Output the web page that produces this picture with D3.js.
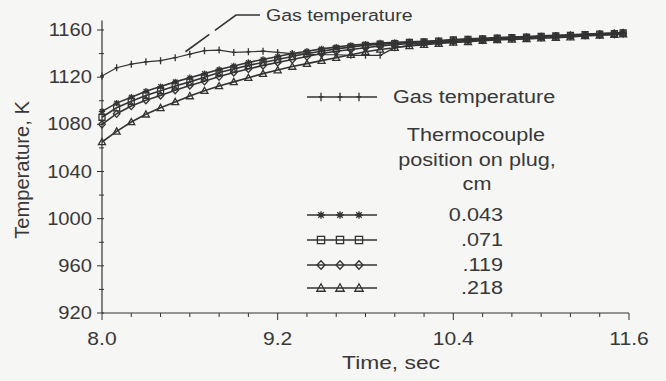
<!DOCTYPE html>
<html>
<head>
<meta charset="utf-8">
<script src="https://cdn.jsdelivr.net/npm/d3@7"></script>
<style>
html,body{margin:0;padding:0;background:#f6f6f5;}
svg{display:block;}
text{font-family:"Liberation Sans",Arial,Helvetica,sans-serif;fill:#383838;}
</style>
</head>
<body>
<svg id="chart" width="666" height="381"></svg>
<script>
// ---- data ----
const times = [8.0,8.1,8.2,8.3,8.4,8.5,8.6,8.7,8.8,8.9,9.0,9.1,9.2,9.3,9.4,9.5,9.6,9.7,9.8,9.9,
  10.0,10.1,10.2,10.3,10.4,10.5,10.6,10.7,10.8,10.9,11.0,11.1,11.2,11.3,11.4,11.5,11.56];
const gasTemp = [1121,1128,1131,1133,1134,1136.5,1139.5,1142.5,1143,1141,1141.5,1142,1141,1140,1139.5,1139,1139,1138.5,1138.5,1138.5,
  1145,1147,1148,1149,1150,1151,1151.5,1152,1153,1153.5,1154,1155,1155.5,1156,1157,1157.5,1158];
const tc043 = [1091,1098,1103,1108,1112,1116,1119.5,1123,1126.5,1129.5,1132.5,1135,1137.5,1140,1142,1144,1145.5,1147,1148,1149,
  1149.5,1150,1150.5,1151,1152,1152.5,1153,1153.5,1154,1154.5,1155,1155.5,1156,1156.5,1157,1157.5,1158];
const tc071 = [1086,1094,1099.5,1104.5,1108.5,1112.5,1116,1120,1124,1127,1130,1132.5,1135,1137.5,1140,1142,1144,1145.5,1147,1148,
  1148.5,1149.5,1150,1150.5,1151.5,1152,1152.5,1153,1153.5,1154,1154.5,1155,1155.5,1156,1156.5,1157,1157.5];
const tc119 = [1080,1089,1095.5,1100.5,1104.5,1109,1113,1116.5,1120.5,1124,1127,1130,1132.5,1135,1137.5,1140,1142,1143.5,1145,1146.5,
  1147.5,1148.5,1149,1150,1150.5,1151,1151.5,1152.5,1153,1153.5,1154,1154.5,1155,1155.5,1156,1156.5,1157];
const tc218 = [1065,1074,1082,1088.5,1094,1099,1104,1108.5,1112.5,1116,1119.5,1123,1126,1129,1131.5,1134,1136.5,1139,1141.5,1143.5,
  1145,1146.5,1147.5,1148.5,1149.5,1150,1151,1151.5,1152,1152.5,1153,1153.5,1154,1155,1155.5,1156,1156.5];
const xTickLabels = [8.0, 9.2, 10.4, 11.6];
const yTickLabels = [920, 960, 1000, 1040, 1080, 1120, 1160];
const legendPositions = ["0.043", ".071", ".119", ".218"];

// ---- setup ----
const svg = d3.select("#chart");
const ink = "#333333";
const x = d3.scaleLinear().domain([8.0, 11.6]).range([102, 629]);
const y = d3.scaleLinear().domain([920, 1160]).range([313, 30]);

function label(px, py, s, anchor, size, sx) {
  svg.append("text")
    .attr("transform", `translate(${px},${py}) scale(${sx || 1.17},1)`)
    .attr("text-anchor", anchor)
    .attr("dominant-baseline", "central")
    .attr("font-size", size)
    .text(s);
}

// ---- axes ----
const yMinor = d3.range(920, 1161, 20);
const xMinor = d3.range(0, 19).map(i => 8.0 + i * 0.2);

const gx = svg.append("g").attr("transform", `translate(0,${y(920)})`);
gx.append("line").attr("x1", x(8.0)).attr("x2", x(11.6)).attr("stroke", ink).attr("stroke-width", 1.2);
gx.selectAll("line.t").data(xMinor).join("line").attr("class", "t")
  .attr("x1", d => x(d)).attr("x2", d => x(d))
  .attr("y1", 0).attr("y2", d => xTickLabels.some(v => Math.abs(v - d) < 1e-6) ? 7 : 4)
  .attr("stroke", ink).attr("stroke-width", 1);
xTickLabels.forEach(v => label(x(v), 339, v.toFixed(1), "middle", 18));

const gy = svg.append("g").attr("transform", `translate(${x(8.0)},0)`);
gy.append("line").attr("y1", y(920)).attr("y2", y(1168)).attr("stroke", ink).attr("stroke-width", 1.2);
gy.selectAll("line.t").data(yMinor).join("line").attr("class", "t")
  .attr("y1", d => y(d)).attr("y2", d => y(d))
  .attr("x1", d => yTickLabels.includes(d) ? -5 : -3).attr("x2", 2)
  .attr("stroke", ink).attr("stroke-width", 1);
yTickLabels.forEach(v => label(92, y(v), String(v), "end", 18, 1.12));

label(391, 362, "Time, sec", "middle", 19, 1.2);
svg.append("text")
  .attr("transform", `translate(22,170) rotate(-90) scale(1.12,1.1)`)
  .attr("text-anchor", "middle").attr("dominant-baseline", "central")
  .attr("font-size", 18).text("Temperature, K");

// ---- markers ----
const sym = {
  plus: "M0,-3.5V3.5M-2,0H2",
  star: "M-3.2,0H3.2M0,-3.2V3.2M-2.3,-2.3L2.3,2.3M-2.3,2.3L2.3,-2.3",
  square: "M-3,-3H3V3H-3Z",
  diamond: "M0,-3.6L3.3,0L0,3.6L-3.3,0Z",
  triangle: "M0,-3.5L3.5,2.7H-3.5Z"
};
const series = [
  { name: "gas", vals: gasTemp, mark: "plus", w: 1.2 },
  { name: "0.043", vals: tc043, mark: "star", w: 1.6 },
  { name: ".071", vals: tc071, mark: "square", w: 1.6 },
  { name: ".119", vals: tc119, mark: "diamond", w: 1.6 },
  { name: ".218", vals: tc218, mark: "triangle", w: 1.6 }
];
const line = d3.line().x((d, i) => x(times[i])).y(d => y(d));

series.forEach(s => {
  svg.append("path").attr("d", line(s.vals)).attr("fill", "none")
    .attr("stroke", ink).attr("stroke-width", s.w);
  svg.append("g").selectAll("path").data(s.vals).join("path")
    .attr("transform", (d, i) => `translate(${x(times[i])},${y(d)})`)
    .attr("d", sym[s.mark]).attr("fill", "none")
    .attr("stroke", ink).attr("stroke-width", 1.3);
});

// ---- annotation ----
const tx = x(8.57), ty = y(1139) - 3;
label(266, 15, "Gas temperature", "start", 17, 1.15);
svg.append("path")
  .attr("d", `M260,15H236L${tx},${ty}`)
  .attr("fill", "none").attr("stroke", ink).attr("stroke-width", 1.6)
  .attr("stroke-dasharray", "50,7,60");

// ---- legend ----
function legendItem(ly, mark) {
  svg.append("line").attr("x1", 307).attr("x2", 377).attr("y1", ly).attr("y2", ly)
    .attr("stroke", ink).attr("stroke-width", 1.4);
  [321, 340, 359].forEach(mx => {
    svg.append("path").attr("transform", `translate(${mx},${ly}) scale(1.2)`)
      .attr("d", sym[mark]).attr("fill", "none").attr("stroke", ink).attr("stroke-width", 1.1);
  });
}
legendItem(97, "plus");
label(393, 97, "Gas temperature", "start", 18.5);
label(476, 135, "Thermocouple", "middle", 18.5);
label(477, 160, "position on plug,", "middle", 18.5);
label(477, 184, "cm", "middle", 18.5);
const lys = [215, 240, 265, 288];
const marks = ["star", "square", "diamond", "triangle"];
legendPositions.forEach((p, i) => {
  legendItem(lys[i], marks[i]);
  label(503, lys[i], p, "end", 18.5);
});
</script>
</body>
</html>
